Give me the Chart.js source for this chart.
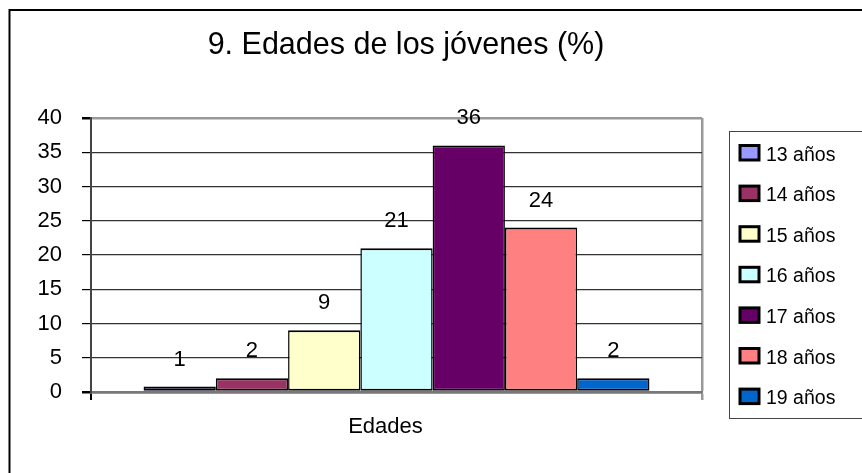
<!DOCTYPE html>
<html>
<head>
<meta charset="utf-8">
<script src="https://cdn.jsdelivr.net/npm/chart.js@4/dist/chart.umd.min.js"></script>
<style>
html,body{margin:0;padding:0;background:#fff;overflow:hidden}
#wrap{width:862px;height:473px;position:relative}
</style>
</head>
<body>
<div id="wrap"><canvas id="c" width="862" height="473"></canvas></div>
<script>
const titleText = '9. Edades de los jóvenes (%)';
const categories = ['Edades'];
const seriesNames = ['13 años', '14 años', '15 años', '16 años', '17 años', '18 años', '19 años'];
const seriesValues = [0.8, 2, 9, 21, 36, 24, 2];
const seriesColors = ['#9999FF', '#993366', '#FFFFCC', '#CCFFFF', '#660066', '#FF8080', '#0066CC'];
const yTicks = [0, 5, 10, 15, 20, 25, 30, 35, 40];

const FONT = "'Liberation Sans', Arial, Helvetica, sans-serif";
Chart.defaults.font.family = FONT;
Chart.defaults.color = '#000';

const datasets = seriesNames.map((name, i) => ({
  label: name,
  data: [seriesValues[i]],
  backgroundColor: seriesColors[i],
  borderColor: '#000',
  borderWidth: {top: 2, bottom: 2, left: 1.5, right: 1.5},
  borderSkipped: false,
  barPercentage: 1,
  categoryPercentage: 0.828
}));

const decorPlugin = {
  id: 'decor',
  beforeDraw(chart) {
    const ctx = chart.ctx;
    ctx.save();
    ctx.fillStyle = '#fff';
    ctx.fillRect(0, 0, chart.width, chart.height);
    ctx.restore();
  },
  afterDraw(chart) {
    const ctx = chart.ctx;
    ctx.save();
    // outer frame
    ctx.strokeStyle = '#000';
    ctx.lineWidth = 2;
    ctx.strokeRect(9.5, 10, chart.width + 20, chart.height + 20);
    // title
    ctx.fillStyle = '#000';
    ctx.font = '30.5px ' + FONT;
    ctx.textAlign = 'center';
    ctx.textBaseline = 'alphabetic';
    ctx.fillText(titleText, 406, 54);
    // legend box
    ctx.strokeStyle = '#444';
    ctx.lineWidth = 1;
    ctx.strokeRect(729.5, 131.5, 200, 287);
    ctx.font = '19.5px ' + FONT;
    ctx.textAlign = 'left';
    chart.data.datasets.forEach((ds, i) => {
      const yTop = 145 + i * 40.6;
      ctx.fillStyle = ds.backgroundColor;
      ctx.fillRect(739, yTop, 20, 15.5);
      ctx.strokeStyle = '#000';
      ctx.lineWidth = 3;
      ctx.strokeRect(740, yTop + 0.5, 19, 14.5);
      ctx.fillStyle = '#000';
      ctx.fillText(ds.label, 766, yTop + 15.5);
    });
    ctx.restore();
  },
  afterDatasetsDraw(chart) {
    const ctx = chart.ctx;
    ctx.save();
    ctx.fillStyle = '#000';
    ctx.font = '22px ' + FONT;
    ctx.textAlign = 'center';
    ctx.textBaseline = 'middle';
    chart.data.datasets.forEach((ds, i) => {
      const meta = chart.getDatasetMeta(i);
      meta.data.forEach((el, j) => {
        const v = ds.data[j];
        ctx.fillText(String(Math.round(v)), el.x, el.y - 27);
      });
    });
    ctx.restore();
  }
};

new Chart(document.getElementById('c'), {
  type: 'bar',
  data: {labels: categories, datasets},
  options: {
    responsive: false,
    animation: false,
    devicePixelRatio: 1,
    layout: {padding: {left: 0, right: 160, top: 118, bottom: 18.6}},
    plugins: {
      legend: {display: false},
      title: {display: false},
      tooltip: {enabled: false}
    },
    scales: {
      x: {
        grid: {
          offset: true,
          drawOnChartArea: true,
          color: c => c.index === 0 ? '#444' : '#999',
          lineWidth: c => c.index === 0 ? 2 : 2.5,
          tickColor: c => c.index === 0 ? '#000' : '#999',
          tickLength: 8
        },
        border: {display: true, color: '#777', width: 2.5},
        ticks: {font: {size: 22}, padding: 14, labelOffset: -11, color: '#000'}
      },
      y: {
        min: yTicks[0],
        max: yTicks[yTicks.length - 1],
        afterBuildTicks: s => { s.ticks = yTicks.map(v => ({value: v})); },
        afterFit: s => { s.width = 91; },
        grid: {
          color: c => c.tick && c.tick.value === 40 ? '#999' : (c.tick && c.tick.value === 0 ? '#777' : '#333'),
          lineWidth: c => c.tick && c.tick.value === 40 ? 2.5 : (c.tick && c.tick.value === 0 ? 2.5 : 1.2),
          tickColor: '#000',
          tickLength: 9
        },
        border: {display: true, color: '#444', width: 2},
        ticks: {font: {size: 22}, padding: 20, color: '#000'}
      }
    }
  },
  plugins: [decorPlugin]
});
</script>
</body>
</html>
